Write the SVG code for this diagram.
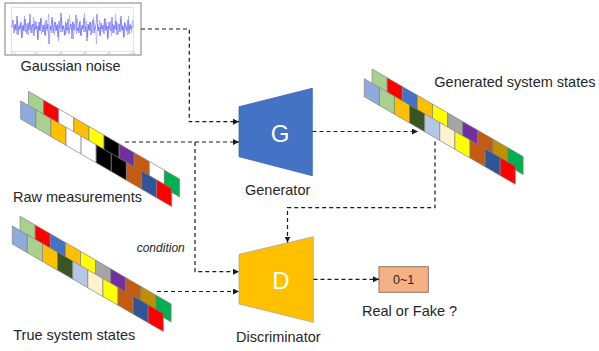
<svg xmlns="http://www.w3.org/2000/svg" xmlns:xlink="http://www.w3.org/1999/xlink" width="599" height="351" viewBox="0 0 599 351">
  <style>
    .lbl { font-family: "Liberation Sans", Arial, sans-serif; font-size: 14.5px; fill: #262626; }
    .big { font-family: "Liberation Sans", Arial, sans-serif; font-size: 24px; fill: #ffffff; text-anchor: middle; }
    .cond { font-family: "Liberation Sans", Arial, sans-serif; font-size: 12px; font-style: italic; fill: #262626; }
    .val { font-family: "Liberation Sans", Arial, sans-serif; font-size: 12.5px; fill: #262626; text-anchor: middle; }
    .link { fill: none; stroke: #1a1a1a; stroke-width: 1.2; stroke-dasharray: 4 3; marker-end: url(#tip); }
    .cell { stroke: #7f7f7f; stroke-width: 0.6; }
    .lb { fill: #8faadc; } .lg { fill: #a9d18e; } .rd { fill: #ff0000; } .wh { fill: #ffffff; }
    .or { fill: #ffc000; } .ye { fill: #ffff00; } .bk { fill: #000000; } .pu { fill: #7030a0; }
    .br { fill: #c55a11; } .gr { fill: #00b050; } .db { fill: #2f5597; } .bl { fill: #4472c4; }
    .dg { fill: #375623; } .pb { fill: #b4c7e7; } .cr { fill: #fff2cc; } .gy { fill: #a5a5a5; }
    .gd { fill: #bf9000; }
  </style>
  <defs>
    <marker id="tip" markerUnits="userSpaceOnUse" markerWidth="7" markerHeight="6" refX="6" refY="3" orient="auto">
      <path d="M0,0 L6,3 L0,6 z" fill="#1a1a1a"/>
    </marker>
    <!-- two-row state strip, drawn in skewed space (slope 0.58) -->
    <g id="stateStrip">
      <g transform="translate(7.8,-14.2)">
        <rect class="cell lg" x="0" y="0" width="15.1" height="18"/>
        <rect class="cell rd" x="15.1" y="0" width="15.1" height="18"/>
        <rect class="cell bl" x="30.2" y="0" width="15.1" height="18"/>
        <rect class="cell or" x="45.3" y="0" width="15.1" height="18"/>
        <rect class="cell ye" x="60.4" y="0" width="15.1" height="18"/>
        <rect class="cell gy" x="75.5" y="0" width="15.1" height="18"/>
        <rect class="cell pu" x="90.6" y="0" width="15.1" height="18"/>
        <rect class="cell br" x="105.7" y="0" width="15.1" height="18"/>
        <rect class="cell gd" x="120.8" y="0" width="15.1" height="18"/>
        <rect class="cell gr" x="135.9" y="0" width="15.1" height="18"/>
      </g>
      <rect class="cell lb" x="0" y="0" width="15.1" height="18"/>
      <rect class="cell lg" x="15.1" y="0" width="15.1" height="18"/>
      <rect class="cell or" x="30.2" y="0" width="15.1" height="18"/>
      <rect class="cell dg" x="45.3" y="0" width="15.1" height="18"/>
      <rect class="cell pb" x="60.4" y="0" width="15.1" height="18"/>
      <rect class="cell cr" x="75.5" y="0" width="15.1" height="18"/>
      <rect class="cell ye" x="90.6" y="0" width="15.1" height="18"/>
      <rect class="cell br" x="105.7" y="0" width="15.1" height="18"/>
      <rect class="cell db" x="120.8" y="0" width="15.1" height="18"/>
      <rect class="cell rd" x="135.9" y="0" width="15.1" height="18"/>
    </g>
  </defs>

  <rect width="599" height="351" fill="#ffffff"/>

  <!-- Gaussian noise plot -->
  <g id="noise">
    <rect x="5" y="3" width="136" height="52" fill="#ffffff" stroke="#808080" stroke-width="1"/>
    <rect x="11.7" y="7.3" width="121.6" height="44.4" fill="none" stroke="#d0d0d0" stroke-width="0.6"/>
    <path d="M12,51.7v1.5M36,51.7v1.5M61,51.7v1.5M85,51.7v1.5M109.3,51.7v1.5M133.3,51.7v1.5M10.5,26.7h1.5" stroke="#9a9a9a" stroke-width="0.6"/>
    <path d="M14,53.8h2M34,53.8h5M58,53.8h5M82,53.8h5M106,53.8h5M129,53.8h7" stroke="#c8c8c8" stroke-width="0.8"/>
    <polyline fill="none" stroke="#9a9aff" stroke-width="0.6" points="12.5,26 13.5,27 14.5,29 15.5,25 16.5,34 17.5,20 18.5,31 19.5,28 20.5,23 21.5,37 22.5,26 23.5,30 24.5,16 25.5,32 26.5,24 27.5,27 28.5,35 29.5,21 30.5,29 31.5,25 32.5,33 33.5,17 34.5,31 35.5,28 36.5,22 37.5,38 38.5,26 39.5,30 40.5,19 41.5,34 42.5,25 43.5,29 44.5,23 45.5,36 46.5,27 47.5,31 48.5,14 49.5,24 50.5,28 51.5,33 52.5,20 53.5,26 54.5,35 55.5,22 56.5,30 57.5,24 58.5,41 59.5,27 60.5,32 61.5,18 62.5,29 63.5,25 64.5,36 65.5,21 66.5,33 67.5,28 68.5,31 69.5,15 70.5,26 71.5,30 72.5,22 73.5,39 74.5,24 75.5,27 76.5,34 77.5,19 78.5,30 79.5,23 80.5,35 81.5,29 82.5,26 83.5,32 84.5,13 85.5,28 86.5,21 87.5,37 88.5,25 89.5,31 90.5,22 91.5,28 92.5,33 93.5,17 94.5,30 95.5,26 96.5,44 97.5,24 98.5,29 99.5,20 100.5,35 101.5,25 102.5,32 103.5,27 104.5,18 105.5,31 106.5,22 107.5,40 108.5,26 109.5,29 110.5,21 111.5,36 112.5,24 113.5,27 114.5,33 115.5,14 116.5,30 117.5,23 118.5,34 119.5,28 120.5,19 121.5,31 122.5,25 123.5,38 124.5,22 125.5,29 126.5,26 127.5,35 128.5,16 129.5,30 130.5,24 131.5,33 132.5,20 133.5,27"/>
    <polyline fill="none" stroke="#3c3cff" stroke-width="0.55" stroke-opacity="0.9" points="12,27 13,20 14,33 15,24 16,30 17,16 18,35 19,26 20,29 21,22 22,38 23,25 24,31 25,19 26,28 27,34 28,23 29,30 30,14 31,33 32,27 33,24 34,36 35,21 36,29 37,26 38,40 39,22 40,31 41,18 42,27 43,32 44,25 45,35 46,20 47,29 48,24 49,44 50,26 51,30 52,17 53,33 54,28 55,22 56,31 57,25 58,37 59,21 60,28 61,13 62,32 63,26 64,29 65,35 66,23 67,30 68,19 69,34 70,27 71,24 72,39 73,22 74,30 75,26 76,15 77,31 78,28 79,33 80,21 81,36 82,25 83,29 84,18 85,32 86,27 87,41 88,24 89,30 90,22 91,35 92,26 93,20 94,33 95,28 96,24 97,14 98,31 99,27 100,36 101,23 102,29 103,25 104,34 105,19 106,30 107,26 108,38 109,22 110,28 111,31 112,17 113,33 114,25 115,29 116,21 117,35 118,27 119,24 120,32 121,16 122,30 123,26 124,37 125,23 126,28 127,31 128,20 129,34 130,25 131,29 132,27 133,26"/>
    <text class="lbl" x="20.5" y="71">Gaussian noise</text>
  </g>

  <!-- Raw measurements strip -->
  <g id="raw">
    <g transform="matrix(1,0.58,0,1,20.7,101)">
      <g transform="translate(7.8,-14.2)">
        <rect class="cell lg" x="0" y="0" width="15.1" height="18"/>
        <rect class="cell rd" x="15.1" y="0" width="15.1" height="18"/>
        <rect class="cell wh" x="30.2" y="0" width="15.1" height="18"/>
        <rect class="cell or" x="45.3" y="0" width="15.1" height="18"/>
        <rect class="cell ye" x="60.4" y="0" width="15.1" height="18"/>
        <rect class="cell bk" x="75.5" y="0" width="15.1" height="18"/>
        <rect class="cell pu" x="90.6" y="0" width="15.1" height="18"/>
        <rect class="cell br" x="105.7" y="0" width="15.1" height="18"/>
        <rect class="cell wh" x="120.8" y="0" width="15.1" height="18"/>
        <rect class="cell gr" x="135.9" y="0" width="15.1" height="18"/>
      </g>
      <rect class="cell lb" x="0" y="0" width="15.1" height="18"/>
      <rect class="cell lg" x="15.1" y="0" width="15.1" height="18"/>
      <rect class="cell or" x="30.2" y="0" width="15.1" height="18"/>
      <rect class="cell wh" x="45.3" y="0" width="15.1" height="18"/>
      <rect class="cell wh" x="60.4" y="0" width="15.1" height="18"/>
      <rect class="cell bk" x="75.5" y="0" width="15.1" height="18"/>
      <rect class="cell bk" x="90.6" y="0" width="15.1" height="18"/>
      <rect class="cell br" x="105.7" y="0" width="15.1" height="18"/>
      <rect class="cell db" x="120.8" y="0" width="15.1" height="18"/>
      <rect class="cell rd" x="135.9" y="0" width="15.1" height="18"/>
    </g>
    <text class="lbl" x="13" y="201.5">Raw measurements</text>
  </g>

  <!-- True system states strip -->
  <g id="trueStates">
    <use xlink:href="#stateStrip" href="#stateStrip" transform="matrix(1,0.58,0,1,12.3,226)"/>
    <text class="lbl" x="13.3" y="340">True system states</text>
  </g>

  <!-- Generated system states strip -->
  <g id="generatedStates">
    <use xlink:href="#stateStrip" href="#stateStrip" transform="matrix(1,0.58,0,1,364.3,78.7)"/>
    <text class="lbl" x="434.3" y="86.5">Generated system states</text>
  </g>

  <!-- Generator -->
  <g id="generator">
    <polygon points="239,106.7 312.3,88.3 312.3,175.7 239,156.7" fill="#4472c4" stroke="#3a64b0" stroke-width="0.8"/>
    <text class="big" x="280" y="141.5">G</text>
    <text class="lbl" x="245" y="195">Generator</text>
  </g>

  <!-- Discriminator -->
  <g id="discriminator">
    <polygon points="239,254.3 313.3,236.7 313.3,322.3 239,304" fill="#ffc000" stroke="#a8a8a8" stroke-width="0.8"/>
    <text class="big" x="281" y="288.5">D</text>
    <text class="lbl" x="236" y="342">Discriminator</text>
  </g>

  <!-- Output score -->
  <g id="score">
    <rect x="379" y="266.7" width="49.3" height="25.6" fill="#f4b183" stroke="#8c7868" stroke-width="1"/>
    <text class="val" x="403.6" y="284">0~1</text>
    <text class="lbl" x="362" y="316">Real or Fake ?</text>
  </g>

  <!-- Connectors -->
  <g id="connectors">
    <path class="link" d="M141,29 H189.3 V121.7 H239"/>
    <path class="link" d="M125,142 H239"/>
    <path class="link" d="M195,142 V271.7 H239"/>
    <path class="link" d="M312.5,131.5 H418"/>
    <path class="link" d="M435,141.5 V207.7 H287.5 V242.5"/>
    <path class="link" d="M157,291.5 H239"/>
    <path class="link" d="M313.5,279.3 H379"/>
    <text class="cond" x="136.7" y="251.5">condition</text>
  </g>
</svg>
